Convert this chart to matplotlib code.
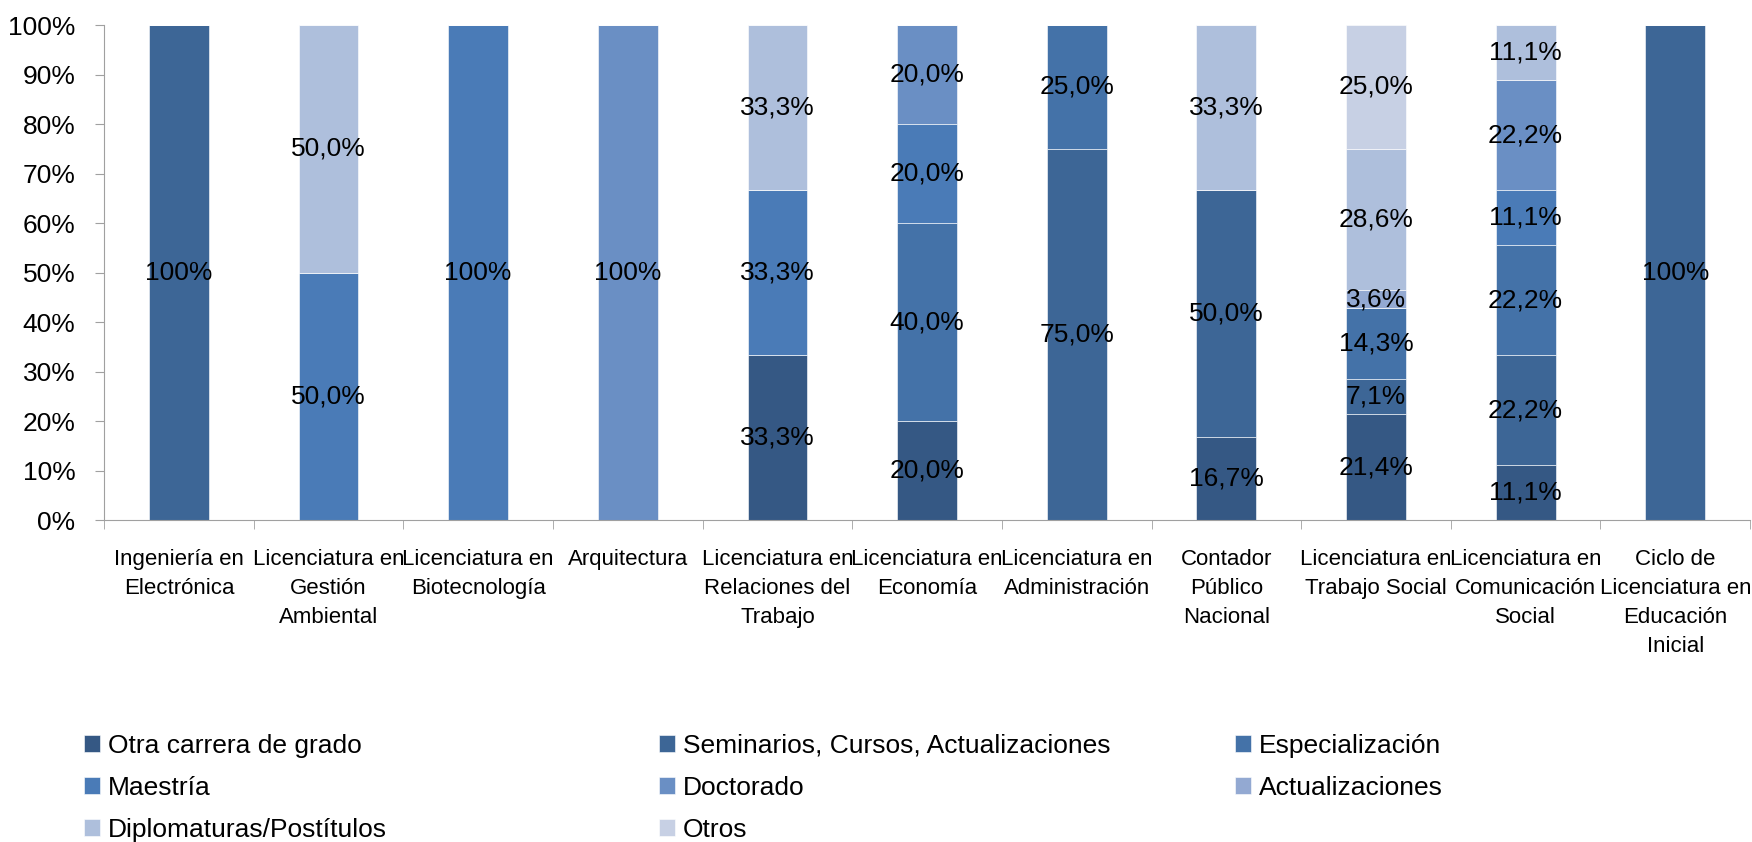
import numpy as np
import matplotlib
matplotlib.use("Agg")
from matplotlib import pyplot as plt
from matplotlib import font_manager

# fuente condensada si existe
names = {f.name for f in font_manager.fontManager.ttflist}
fam = "Liberation Sans Narrow" if "Liberation Sans Narrow" in names else "Liberation Sans"
plt.rcParams["font.family"] = [fam, "DejaVu Sans"]

categorias = [
    "Ingeniería en\nElectrónica",
    "Licenciatura en\nGestión\nAmbiental",
    "Licenciatura en\nBiotecnología",
    "Arquitectura",
    "Licenciatura en\nRelaciones del\nTrabajo",
    "Licenciatura en\nEconomía",
    "Licenciatura en\nAdministración",
    "Contador\nPúblico\nNacional",
    "Licenciatura en\nTrabajo Social",
    "Licenciatura en\nComunicación\nSocial",
    "Ciclo de\nLicenciatura en\nEducación\nInicial",
]

series = [
    "Otra carrera de grado",
    "Seminarios, Cursos, Actualizaciones",
    "Especialización",
    "Maestría",
    "Doctorado",
    "Actualizaciones",
    "Diplomaturas/Postítulos",
    "Otros",
]

otra_carrera = [0, 0, 0, 0, 33.3, 20.0, 0, 16.7, 21.4, 11.1, 0]
seminarios = [100, 0, 0, 0, 0, 0, 75.0, 50.0, 7.1, 22.2, 100]
especializacion = [0, 0, 0, 0, 0, 40.0, 25.0, 0, 14.3, 22.2, 0]
maestria = [0, 50.0, 100, 0, 33.3, 20.0, 0, 0, 0, 11.1, 0]
doctorado = [0, 0, 0, 100, 0, 20.0, 0, 0, 0, 22.2, 0]
actualizaciones = [0, 0, 0, 0, 0, 0, 0, 0, 3.6, 0, 0]
diplomaturas = [0, 50.0, 0, 0, 33.3, 0, 0, 33.3, 28.6, 11.1, 0]
otros = [0, 0, 0, 0, 0, 0, 0, 0, 25.0, 0, 0]

valores = [otra_carrera, seminarios, especializacion, maestria,
           doctorado, actualizaciones, diplomaturas, otros]
colores = ["#355884", "#3d6696", "#4472a8", "#4a7bb7",
           "#6a8fc4", "#93a9d2", "#aebfdc", "#c7d0e4"]

fig = plt.figure(figsize=(17.52, 8.42), dpi=100)
ax = fig.add_axes([0.0594, 0.3824, 0.9395, 0.5879])

x = np.arange(len(categorias))
data = np.array(valores, dtype=float)
totales = data.sum(axis=0)
base = np.zeros(len(categorias))
handles = []
for nombre, fila, col in zip(series, data, colores):
    pct = fila / totales
    b = ax.bar(x, pct, 0.4, bottom=base, color=col, label=nombre,
               edgecolor="white", linewidth=0.4)
    handles.append(b)
    for i, v in enumerate(fila):
        if v <= 0:
            continue
        txt = "100%" if v >= 100 else ("%.1f%%" % v).replace(".", ",")
        ax.text(x[i], base[i] + pct[i] / 2, txt, ha="center", va="center",
                fontsize=19, color="black")
    base += pct

ax.set_xlim(-0.5, len(categorias) - 0.5)
ax.set_ylim(0, 1)
ax.set_yticks(np.linspace(0, 1, 11))
ax.set_yticklabels(["%d%%" % v for v in range(0, 101, 10)], fontsize=19)
ax.set_xticks(x)
ax.set_xticklabels(categorias, fontsize=16, linespacing=1.5)
ax.set_xticks(np.arange(len(categorias) + 1) - 0.5, minor=True)
ax.tick_params(axis="x", which="major", length=0, pad=21)
ax.tick_params(axis="x", which="minor", length=6.5, color="#a0a0a0")
ax.tick_params(axis="y", length=6.5, color="#a0a0a0", pad=14)
for s in ["top", "right"]:
    ax.spines[s].set_visible(False)
for s in ["left", "bottom"]:
    ax.spines[s].set_color("#a0a0a0")

# leyenda en tres columnas, orden por filas
col_x = [0.048, 0.376, 0.705]
for c in range(3):
    idx = list(range(c, len(series), 3))
    fig.legend([handles[i] for i in idx], [series[i] for i in idx],
               loc="upper left", bbox_to_anchor=(col_x[c], 0.1285),
               frameon=False, fontsize=19, handlelength=0.6, handleheight=0.6,
               handletextpad=0.3, labelspacing=0.68, borderpad=0,
               borderaxespad=0)

fig.savefig("out.png", dpi=100)
